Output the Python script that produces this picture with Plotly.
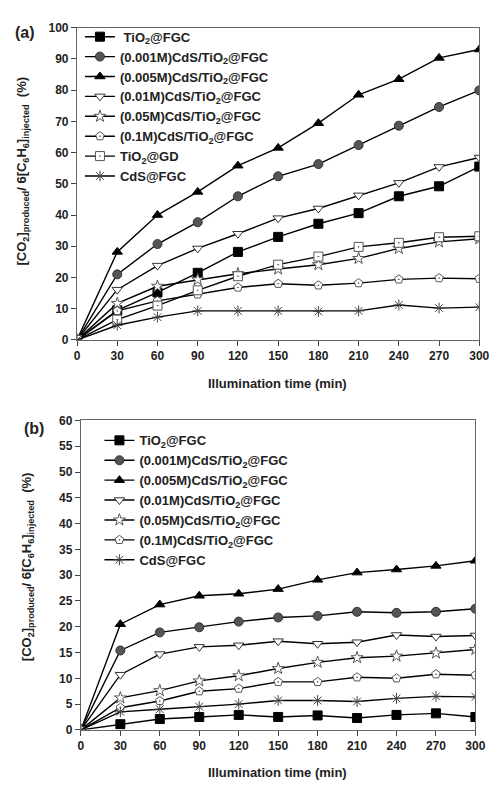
import plotly.graph_objects as go

time = [0, 30, 60, 90, 120, 150, 180, 210, 240, 270, 300]

# Panel (a)
names_a = [" TiO<sub>2</sub>@FGC", "(0.001M)CdS/TiO<sub>2</sub>@FGC", "(0.005M)CdS/TiO<sub>2</sub>@FGC",
           "(0.01M)CdS/TiO<sub>2</sub>@FGC", "(0.05M)CdS/TiO<sub>2</sub>@FGC", "(0.1M)CdS/TiO<sub>2</sub>@FGC",
           "TiO<sub>2</sub>@GD", "CdS@FGC"]
a_tio2_fgc = [0, 9.5, 15.2, 21.5, 28.2, 33.0, 37.2, 40.6, 46.0, 49.2, 55.5]
a_001 = [0, 21.0, 30.7, 37.7, 46.0, 52.4, 56.3, 62.4, 68.6, 74.6, 79.9]
a_005 = [0, 28.2, 40.0, 47.4, 55.8, 61.5, 69.4, 78.5, 83.5, 90.3, 93.0]
a_01 = [0, 16.1, 23.8, 29.3, 34.0, 39.0, 42.1, 46.3, 50.3, 55.4, 58.4]
a_05 = [0, 11.7, 17.2, 19.3, 21.2, 22.7, 24.1, 26.1, 29.3, 31.4, 32.4]
a_1 = [0, 9.3, 12.5, 14.6, 16.8, 18.0, 17.5, 18.2, 19.4, 19.8, 19.6]
a_tio2_gd = [0, 6.5, 11.0, 15.9, 20.4, 24.1, 26.7, 29.8, 31.1, 32.9, 33.2]
a_cds = [0, 4.7, 7.3, 9.3, 9.3, 9.3, 9.1, 9.3, 11.2, 10.2, 10.5]
series_a = [a_tio2_fgc, a_001, a_005, a_01, a_05, a_1, a_tio2_gd, a_cds]

# Panel (b)
names_b = ["TiO<sub>2</sub>@FGC", "(0.001M)CdS/TiO<sub>2</sub>@FGC", "(0.005M)CdS/TiO<sub>2</sub>@FGC",
           "(0.01M)CdS/TiO<sub>2</sub>@FGC", "(0.05M)CdS/TiO<sub>2</sub>@FGC", "(0.1M)CdS/TiO<sub>2</sub>@FGC",
           "CdS@FGC"]
b_tio2_fgc = [0, 1.1, 2.1, 2.5, 2.9, 2.5, 2.8, 2.3, 2.9, 3.2, 2.5]
b_001 = [0, 15.4, 18.9, 19.9, 21.0, 21.8, 22.1, 22.9, 22.7, 22.9, 23.5]
b_005 = [0, 20.5, 24.3, 26.0, 26.4, 27.3, 29.1, 30.5, 31.1, 31.8, 32.8]
b_01 = [0, 10.7, 14.7, 16.1, 16.4, 17.2, 16.7, 17.0, 18.4, 18.1, 18.3]
b_05 = [0, 6.2, 7.6, 9.5, 10.5, 11.9, 13.1, 14.0, 14.3, 14.9, 15.6]
b_1 = [0, 4.3, 5.6, 7.5, 8.0, 9.3, 9.3, 10.2, 10.0, 10.8, 10.6]
b_cds = [0, 3.5, 4.0, 4.5, 5.0, 5.7, 5.7, 5.5, 6.1, 6.5, 6.4]
series_b = [b_tio2_fgc, b_001, b_005, b_01, b_05, b_1, b_cds]

marker_styles = [
    dict(symbol="square", color="black", line=dict(color="black", width=1)),
    dict(symbol="circle", color="#555555", line=dict(color="#333333", width=1)),
    dict(symbol="triangle-up", color="black", line=dict(color="black", width=1)),
    dict(symbol="triangle-down", color="white", line=dict(color="#333333", width=1)),
    dict(symbol="star", color="white", line=dict(color="#555555", width=1)),
    dict(symbol="pentagon-dot", color="white", line=dict(color="#555555", width=1)),
    dict(symbol="square-dot", color="white", line=dict(color="#555555", width=1)),
    dict(symbol="asterisk-open", color="#444444", line=dict(color="#444444", width=1)),
]
styles_a = marker_styles
styles_b = marker_styles[:6] + [marker_styles[7]]

fig = go.Figure()
for nm, ys, st in zip(names_a, series_a, styles_a):
    fig.add_trace(go.Scatter(x=time, y=ys, name="<b>" + nm + "</b>", mode="lines+markers",
                             line=dict(color="black", width=1.4),
                             marker=dict(size=9, **st),
                             xaxis="x", yaxis="y", legend="legend"))
for nm, ys, st in zip(names_b, series_b, styles_b):
    fig.add_trace(go.Scatter(x=time, y=ys, name="<b>" + nm + "</b>", mode="lines+markers",
                             line=dict(color="black", width=1.4),
                             marker=dict(size=9, **st),
                             xaxis="x2", yaxis="y2", legend="legend2"))

W, H = 500, 785
def px(x): return x / W
def py(y): return 1 - y / H

tickfont = dict(family="Liberation Sans, Arial", size=12, color="#222222")
axcommon = dict(showline=True, mirror=True, linecolor="#666666", linewidth=1.2,
                ticks="outside", ticklen=5, tickcolor="#444444", showgrid=False,
                zeroline=False, tickfont=tickfont, tickprefix="<b>", ticksuffix="</b>")
legfont = dict(family="Liberation Sans, Arial", size=13, color="#222222")

fig.update_layout(
    width=W, height=H, margin=dict(l=0, r=0, t=0, b=0),
    paper_bgcolor="white", plot_bgcolor="white", showlegend=True,
    font=dict(family="Liberation Sans, Arial", color="#222222"),
    xaxis=dict(domain=[px(76), px(489)], range=[0, 300], dtick=30, anchor="y", **axcommon),
    yaxis=dict(domain=[py(339), py(21)], range=[0, 100], dtick=10, anchor="x", **axcommon),
    xaxis2=dict(domain=[px(80), px(485)], range=[0, 300], dtick=30, anchor="y2", **axcommon),
    yaxis2=dict(domain=[py(736), py(421)], range=[0, 60], dtick=5, anchor="x2", **axcommon),
    legend=dict(x=px(79), y=py(15), xanchor="left", yanchor="top", bgcolor="rgba(0,0,0,0)",
                font=legfont, tracegroupgap=0),
    legend2=dict(x=px(99), y=py(426), xanchor="left", yanchor="top", bgcolor="rgba(0,0,0,0)",
                 font=legfont, tracegroupgap=0),
)

ytitle = "<b>[CO<sub>2</sub>]<sub>produced</sub>/ 6[C<sub>6</sub>H<sub>6</sub>]<sub>injected</sub>  (%)</b>"
xtitle = "<b>Illumination time (min)</b>"
ann = [
    dict(text="<b>(a)</b>", x=px(23), y=py(26), font=dict(size=16)),
    dict(text="<b>(b)</b>", x=px(32), y=py(429), font=dict(size=16)),
    dict(text=ytitle, x=px(20), y=py(167), textangle=-90, font=dict(size=13)),
    dict(text=ytitle, x=px(26), y=py(570), textangle=-90, font=dict(size=13)),
    dict(text=xtitle, x=px(282), y=py(383), font=dict(size=13)),
    dict(text=xtitle, x=px(282), y=py(779), font=dict(size=13)),
]
for a in ann:
    a.update(xref="paper", yref="paper", showarrow=False, xanchor="center", yanchor="middle")
    a["font"].update(family="Liberation Sans, Arial", color="#222222")
fig.update_layout(annotations=ann)

fig.write_html("out.html")
